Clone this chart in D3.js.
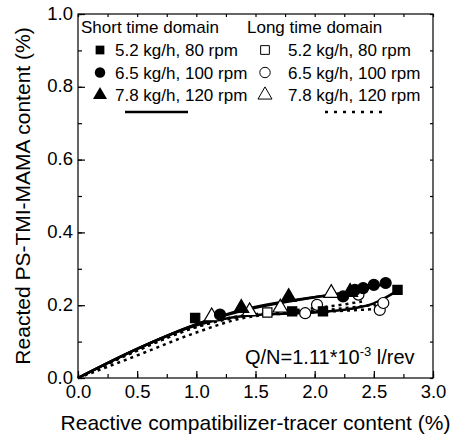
<!DOCTYPE html>
<html>
<head>
<meta charset="utf-8">
<script src="https://cdn.jsdelivr.net/npm/d3@7"></script>
<style>
  body { margin: 0; background: #fff; }
  text { font-family: "Liberation Sans", Arial, sans-serif; fill: #000; }
</style>
</head>
<body>
<script>
// Data
const xTicks = [0, 0.5, 1.0, 1.5, 2.0, 2.5, 3.0];
const yTicks = [0, 0.2, 0.4, 0.6, 0.8, 1.0];

// measured points, short time domain (filled markers)
const shortSquare = [[0.99, 0.165], [1.81, 0.183], [2.07, 0.183], [2.70, 0.242]];
const shortCircle = [[1.20, 0.174], [2.24, 0.224], [2.34, 0.242], [2.41, 0.247], [2.50, 0.256], [2.60, 0.261]];
const shortTriangle = [[1.38, 0.192], [1.78, 0.222], [2.30, 0.236]];

// measured points, long time domain (open markers)
const longSquare = [[1.60, 0.180], [2.55, 0.195]];
const longCircle = [[1.92, 0.178], [2.02, 0.201], [2.37, 0.229], [2.55, 0.187], [2.58, 0.206]];
const longTriangle = [[1.13, 0.169], [1.45, 0.183], [1.71, 0.193], [2.14, 0.233]];

// fitted curves (solid = short, dotted = long)
const fitShortSquare = [[0, 0], [0.5, 0.08], [1.0, 0.145], [1.3, 0.166], [1.6, 0.175], [2.0, 0.18], [2.3, 0.19], [2.5, 0.205], [2.7, 0.24]];
const fitShortCircle = [[0, 0], [0.5, 0.08], [1.0, 0.148], [1.5, 0.193], [2.0, 0.222], [2.3, 0.238], [2.6, 0.258]];
const fitShortTriangle = [[0, 0], [0.5, 0.08], [1.0, 0.147], [1.4, 0.188], [1.8, 0.213], [2.1, 0.226], [2.4, 0.236]];
const fitLongSquare = [[0, 0], [0.5, 0.062], [1.0, 0.125], [1.4, 0.165], [1.8, 0.178], [2.2, 0.184], [2.55, 0.19]];
const fitLongCircle = [[0, 0], [0.5, 0.076], [1.0, 0.14], [1.4, 0.172], [1.8, 0.18], [2.2, 0.19], [2.6, 0.205]];
const fitLongTriangle = [[0, 0], [0.5, 0.075], [1.0, 0.14], [1.4, 0.17], [1.8, 0.185], [2.2, 0.2], [2.4, 0.21]];

const legendLabels = ["5.2 kg/h, 80 rpm", "6.5 kg/h, 100 rpm", "7.8 kg/h, 120 rpm"];

const margin = { top: 14, right: 22, bottom: 63, left: 78 },
  width = 455 - margin.left - margin.right,
  height = 441 - margin.top - margin.bottom;

const x = d3.scaleLinear().domain([0, 3]).range([0, width]);
const y = d3.scaleLinear().domain([0, 1]).range([height, 0]);

const svg = d3.select("body").append("svg")
  .attr("width", 455).attr("height", 441)
  .append("g")
  .attr("transform", "translate(" + margin.left + "," + margin.top + ")");

// frame
svg.append("rect")
  .attr("width", width).attr("height", height)
  .attr("fill", "none").attr("stroke", "#000").attr("stroke-width", 1.2);

// ticks (inward, major + minor)
const xMinor = d3.range(0, 3.001, 0.25);
const yMinor = d3.range(0, 1.001, 0.1);

svg.append("g").attr("transform", "translate(0," + height + ")")
  .call(d3.axisBottom(x).tickValues(xMinor).tickSize(-4).tickFormat(""))
  .call(g => g.select(".domain").remove());
svg.append("g").attr("transform", "translate(0," + height + ")")
  .call(d3.axisBottom(x).tickValues(xTicks).tickSize(-7).tickPadding(7).tickFormat(d3.format(".1f")))
  .call(g => g.select(".domain").remove())
  .selectAll("text").attr("font-size", 18.5).attr("dy", "0.71em");
svg.append("g")
  .call(d3.axisTop(x).tickValues(xMinor).tickSize(-3).tickFormat(""))
  .call(g => g.select(".domain").remove());

svg.append("g")
  .call(d3.axisLeft(y).tickValues(yMinor).tickSize(-4).tickFormat(""))
  .call(g => g.select(".domain").remove());
svg.append("g")
  .call(d3.axisLeft(y).tickValues(yTicks).tickSize(-7).tickPadding(5).tickFormat(d3.format(".1f")))
  .call(g => g.select(".domain").remove())
  .selectAll("text").attr("font-size", 18.5).attr("dy", "0.28em");
svg.append("g").attr("transform", "translate(" + width + ",0)")
  .call(d3.axisRight(y).tickValues(yMinor).tickSize(-3).tickFormat(""))
  .call(g => g.select(".domain").remove());

svg.selectAll(".tick line").attr("stroke", "#000").attr("stroke-width", 1.2);
svg.selectAll(".tick text").attr("fill", "#000");

// axis titles
svg.append("text")
  .attr("x", width / 2).attr("y", height + 52)
  .attr("text-anchor", "middle").attr("font-size", 21)
  .text("Reactive compatibilizer-tracer content (%)");
svg.append("text")
  .attr("transform", "translate(" + (-48.5) + "," + (height / 2) + ") rotate(-90)")
  .attr("text-anchor", "middle").attr("font-size", 21)
  .text("Reacted PS-TMI-MAMA content (%)");

// curves
const line = d3.line().x(d => x(d[0])).y(d => y(d[1])).curve(d3.curveMonotoneX);
const plot = svg.append("g");
[fitLongSquare, fitLongCircle, fitLongTriangle].forEach(c => {
  plot.append("path").attr("d", line(c)).attr("fill", "none")
    .attr("stroke", "#000").attr("stroke-width", 2.5).attr("stroke-dasharray", "3,4");
});
[fitShortSquare, fitShortCircle, fitShortTriangle].forEach(c => {
  plot.append("path").attr("d", line(c)).attr("fill", "none")
    .attr("stroke", "#000").attr("stroke-width", 2.5);
});

// markers
const symSize = { square: 85, circle: 95, triangle: 95 };
const symType = { square: d3.symbolSquare, circle: d3.symbolCircle, triangle: d3.symbolTriangle };
function drawMarks(data, kind, filled) {
  plot.selectAll(null).data(data).enter().append("path")
    .attr("d", d3.symbol().type(symType[kind]).size(symSize[kind]))
    .attr("transform", d => "translate(" + x(d[0]) + "," + y(d[1]) + ")")
    .attr("fill", filled ? "#000" : "#fff")
    .attr("stroke", "#000").attr("stroke-width", 1.2);
}
drawMarks(longSquare, "square", false);
drawMarks(longCircle, "circle", false);
drawMarks(longTriangle, "triangle", false);
drawMarks(shortSquare, "square", true);
drawMarks(shortCircle, "circle", true);
drawMarks(shortTriangle, "triangle", true);

// legend
const lg = svg.append("g");
lg.append("text").attr("x", 3).attr("y", 19).attr("font-size", 17).text("Short time domain");
lg.append("text").attr("x", 169).attr("y", 19).attr("font-size", 17).text("Long time domain");
const kinds = ["square", "circle", "triangle"];
kinds.forEach((k, i) => {
  const yy = 36 + i * 22.5;
  lg.append("path").attr("d", d3.symbol().type(symType[k]).size(symSize[k] * 0.9))
    .attr("transform", "translate(" + 22 + "," + yy + ")").attr("fill", "#000");
  lg.append("text").attr("x", 37).attr("y", yy + 6).attr("font-size", 17).text(legendLabels[i]);
  lg.append("path").attr("d", d3.symbol().type(symType[k]).size(symSize[k] * 0.9))
    .attr("transform", "translate(" + 187 + "," + yy + ")")
    .attr("fill", "#fff").attr("stroke", "#000").attr("stroke-width", 1);
  lg.append("text").attr("x", 210).attr("y", yy + 6).attr("font-size", 17).text(legendLabels[i]);
});
lg.append("line").attr("x1", 47).attr("x2", 110).attr("y1", 98).attr("y2", 98)
  .attr("stroke", "#000").attr("stroke-width", 2.5);
lg.append("line").attr("x1", 247).attr("x2", 310).attr("y1", 98).attr("y2", 98)
  .attr("stroke", "#000").attr("stroke-width", 2.5).attr("stroke-dasharray", "3,6");

// annotation
const ann = svg.append("text").attr("x", 167).attr("y", 350)
  .attr("font-size", 20);
ann.append("tspan").text("Q/N=1.11*10");
ann.append("tspan").attr("font-size", 13).attr("dy", -8).text("-3");
ann.append("tspan").attr("dy", 8).text(" l/rev");
</script>
</body>
</html>
